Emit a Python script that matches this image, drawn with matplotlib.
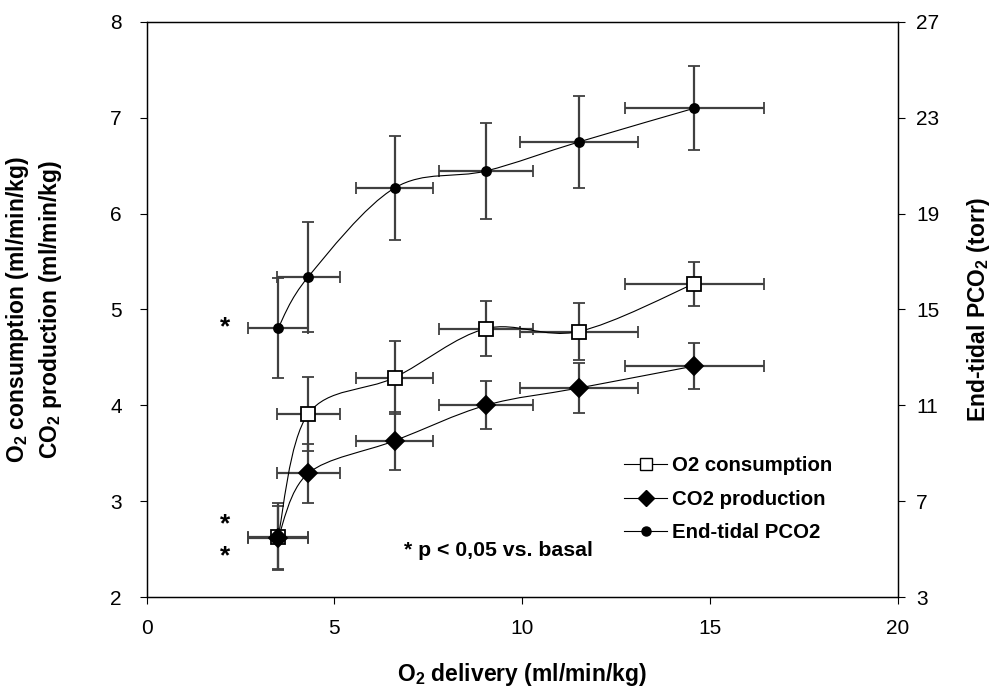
import matplotlib
matplotlib.use("Agg")
import matplotlib.pyplot as plt
from matplotlib.path import Path
from matplotlib.patches import PathPatch
from matplotlib.lines import Line2D

plt.rcParams['font.family'] = ['Liberation Sans', 'DejaVu Sans']
plt.rcParams['mathtext.fontset'] = 'custom'
plt.rcParams['mathtext.rm'] = 'Liberation Sans'
plt.rcParams['mathtext.bf'] = 'Liberation Sans:bold'

# O2 delivery (x) with its SD, shared by all three series
delivery = [3.5, 4.3, 6.6, 9.03, 11.5, 14.58]
delivery_sd = [0.8, 0.84, 1.03, 1.25, 1.57, 1.85]

# O2 consumption (ml/min/kg)
vo2 = [2.63, 3.91, 4.29, 4.80, 4.77, 5.27]
vo2_sd = [0.35, 0.39, 0.38, 0.29, 0.30, 0.23]

# CO2 production (ml/min/kg)
vco2 = [2.62, 3.29, 3.63, 4.00, 4.18, 4.41]
vco2_sd = [0.33, 0.31, 0.30, 0.25, 0.26, 0.24]

# End-tidal PCO2 (torr), right axis
petco2 = [14.23, 16.36, 20.07, 20.78, 21.99, 23.40]
petco2_sd = [2.1, 2.3, 2.17, 2.0, 1.92, 1.75]

star_x = 2.08
star_y = [4.81, 2.76, 2.42]

ERR_COLOR = '0.25'
LABEL_SIZE = 16.5


def smooth_path(xs, ys):
    # excel-like smoothed line: cubic bezier segments (catmull-rom tangents)
    n = len(xs)
    verts = [(xs[0], ys[0])]
    codes = [Path.MOVETO]
    for i in range(n - 1):
        x0, y0 = (xs[i - 1], ys[i - 1]) if i > 0 else (xs[i], ys[i])
        x1, y1 = xs[i], ys[i]
        x2, y2 = xs[i + 1], ys[i + 1]
        x3, y3 = (xs[i + 2], ys[i + 2]) if i + 2 < n else (x2, y2)
        c1 = (x1 + (x2 - x0) / 6, y1 + (y2 - y0) / 6)
        c2 = (x2 - (x3 - x1) / 6, y2 - (y3 - y1) / 6)
        verts += [c1, c2, (x2, y2)]
        codes += [Path.CURVE4] * 3
    return Path(verts, codes)


def draw_series(ax, ys, sd, marker, mfc, ms):
    ax.add_patch(PathPatch(smooth_path(delivery, ys), fill=False,
                           edgecolor='black', lw=0.8, zorder=3))
    ax.errorbar(delivery, ys, yerr=sd, xerr=delivery_sd, fmt='none',
                ecolor=ERR_COLOR, elinewidth=1.6, capsize=4, capthick=1.3,
                zorder=2)
    ax.plot(delivery, ys, linestyle='none', marker=marker, mfc=mfc,
            mec='black', mew=1.3, ms=ms, zorder=4)


fig = plt.figure(figsize=(9.91, 6.87), dpi=100)
ax = fig.add_axes([0.148, 0.131, 0.758, 0.837])
ax2 = ax.twinx()

draw_series(ax, vo2, vo2_sd, 's', 'white', 9.5)
draw_series(ax, vco2, vco2_sd, 'D', 'black', 9.5)
draw_series(ax2, petco2, petco2_sd, 'o', 'black', 6.5)

ax.set_xlim(0, 20)
ax.set_ylim(2, 8)
ax2.set_ylim(3, 27)
ax.set_xticks([0, 5, 10, 15, 20])
ax.set_yticks(range(2, 9))
ax2.set_yticks(range(3, 28, 4))

ax.tick_params(axis='x', direction='out', length=5, width=0.8, labelsize=15, pad=11)
ax.tick_params(axis='y', direction='out', length=5, width=0.8, labelsize=15, pad=13)
ax2.tick_params(axis='y', direction='out', length=5, width=0.8, labelsize=15, pad=8)
for a in (ax, ax2):
    for s in a.spines.values():
        s.set_linewidth(0.9)

ax.set_xlabel(r'O$_\mathbf{2}$ delivery (ml/min/kg)', fontsize=LABEL_SIZE,
              fontweight='bold')
ax.xaxis.set_label_coords(0.5, -0.111)
ax.set_ylabel('O$_\\mathbf{2}$ consumption (ml/min/kg)\nCO$_\\mathbf{2}$ production (ml/min/kg)',
              fontsize=LABEL_SIZE, fontweight='bold', linespacing=1.3)
ax.yaxis.set_label_coords(-0.11, 0.5)
ax2.set_ylabel(r'End-tidal PCO$_\mathbf{2}$ (torr)', fontsize=LABEL_SIZE,
               fontweight='bold')
ax2.yaxis.set_label_coords(1.09, 0.5)

for y in star_y:
    ax.text(star_x, y, '*', fontsize=19, fontweight='bold', ha='center', va='center')
ax.text(9.37, 2.49, '* p < 0,05 vs. basal', fontsize=15.3, fontweight='bold',
        ha='center', va='center')

handles = [
    Line2D([], [], color='black', lw=0.8, marker='s', mfc='white', mec='black', ms=8.5),
    Line2D([], [], color='black', lw=0.8, marker='D', mfc='black', mec='black', ms=8.5),
    Line2D([], [], color='black', lw=0.8, marker='o', mfc='black', mec='black', ms=6.5),
]
labels = ['O2 consumption', 'CO2 production', 'End-tidal PCO2']
leg = ax2.legend(handles, labels, loc='center left', bbox_to_anchor=(0.636, 0.17),
                 frameon=False, prop={'weight': 'bold', 'size': 14.7},
                 handlelength=2.1, handletextpad=0.25, labelspacing=0.7,
                 borderpad=0, borderaxespad=0)

fig.savefig('out.png', dpi=100)
